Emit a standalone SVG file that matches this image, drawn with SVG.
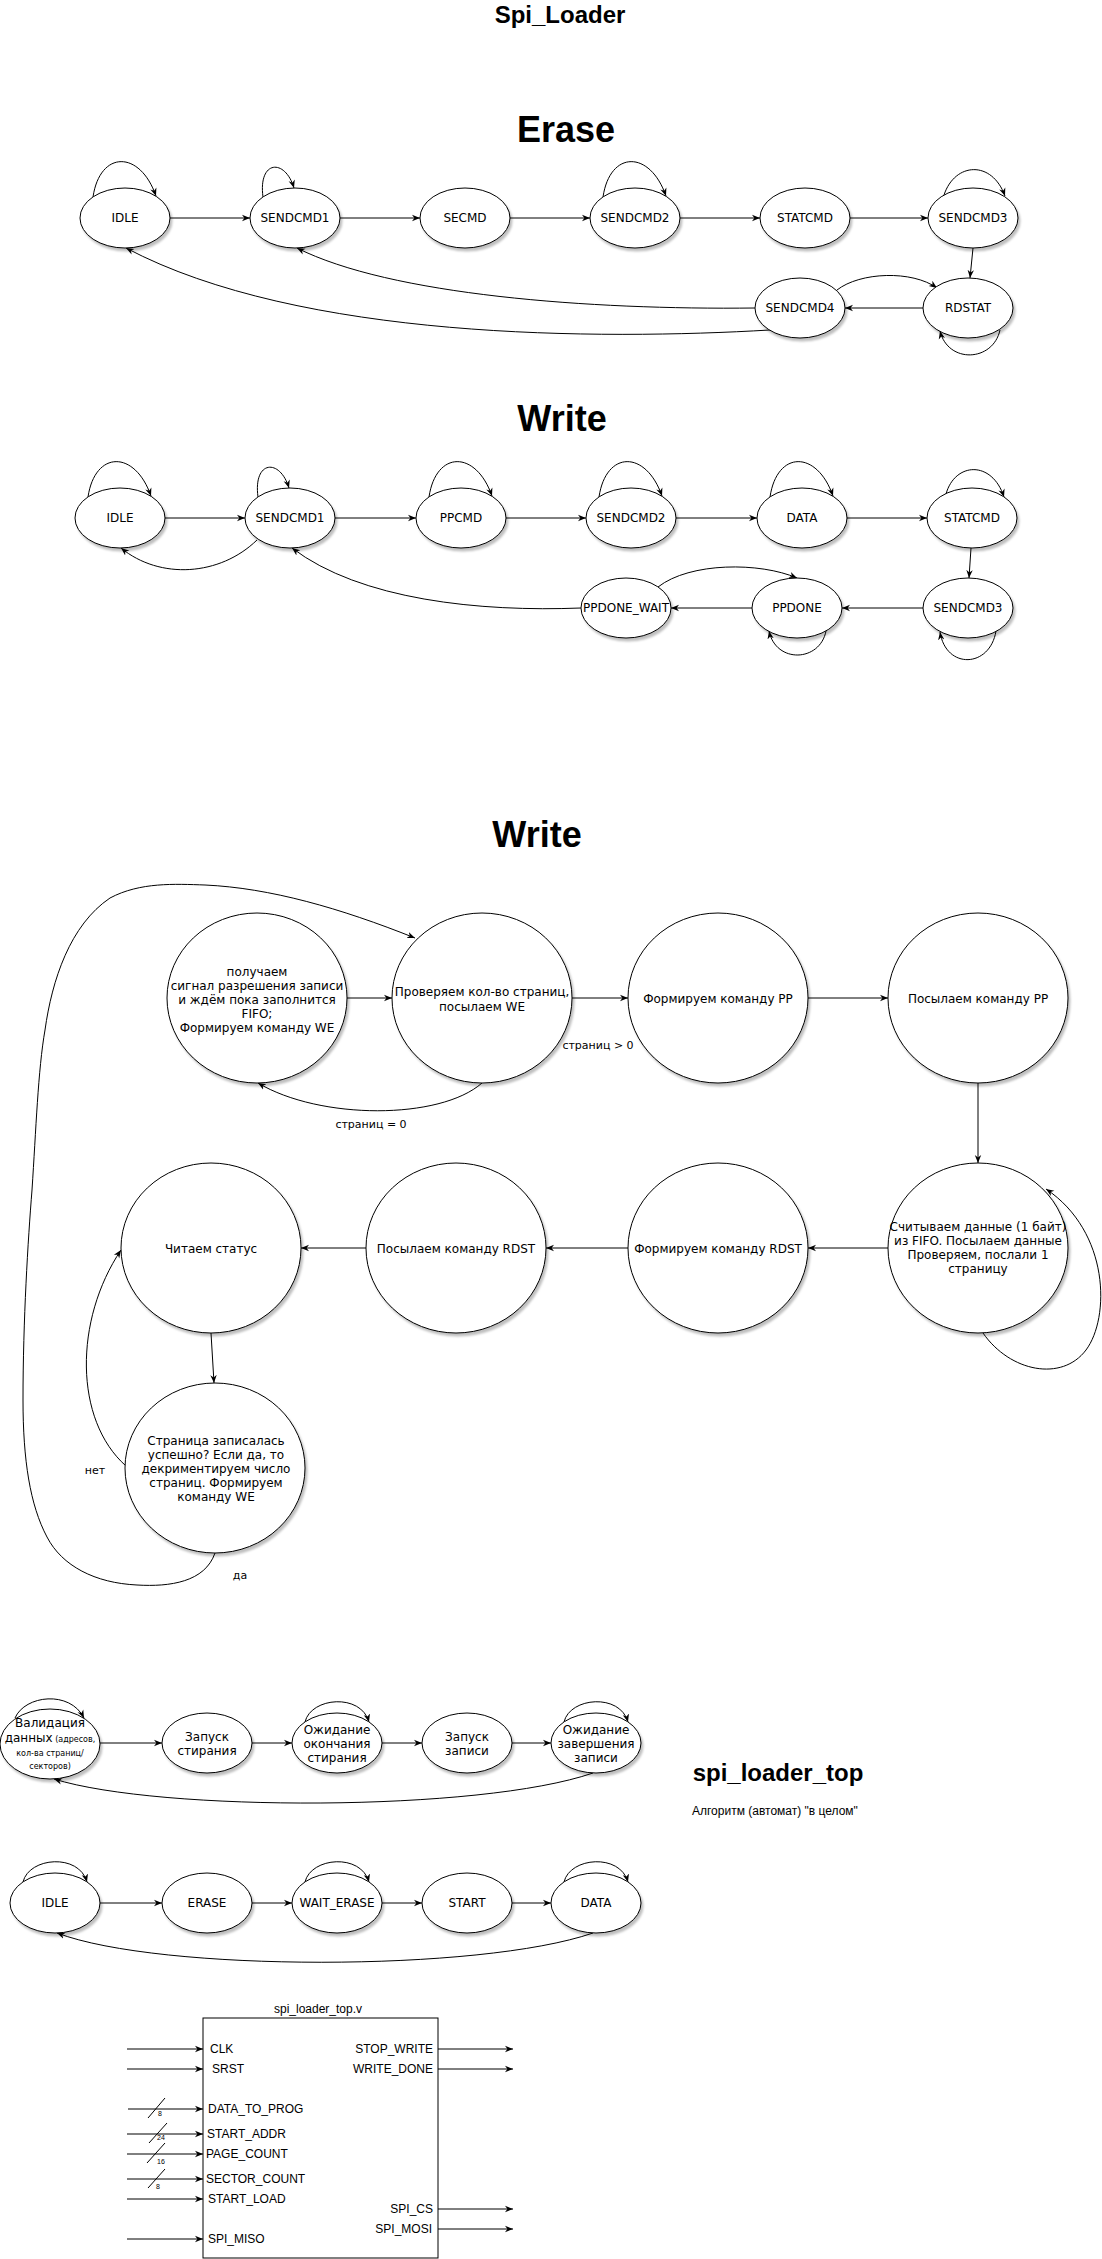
<svg xmlns="http://www.w3.org/2000/svg" width="1102" height="2259" viewBox="0 0 1102 2259">
<style>
.n{fill:#fff;stroke:#000;stroke-width:1;filter:url(#sh)}
.e{fill:none;stroke:#000;stroke-width:1;marker-end:url(#a)}
.l{fill:none;stroke:#000;stroke-width:1}
.t{font-family:"DejaVu Sans",sans-serif;font-size:12px;text-anchor:middle;fill:#000}
.t8{font-family:"DejaVu Sans",sans-serif;font-size:8px;text-anchor:middle;fill:#000}
.s{font-family:"DejaVu Sans",sans-serif;font-size:11px;text-anchor:middle;fill:#000}
.h{font-family:"Liberation Sans",Arial,sans-serif;font-weight:bold;text-anchor:middle;fill:#000}
.m{font-family:"Liberation Sans",Arial,sans-serif;font-size:12px;fill:#000}
.w{font-family:"Liberation Sans",Arial,sans-serif;font-size:7px;fill:#000}
</style>
<defs>
<filter id="sh" x="-20%" y="-20%" width="140%" height="150%">
<feDropShadow dx="2" dy="3" stdDeviation="1.2" flood-color="#000" flood-opacity="0.25"/>
</filter>
<marker id="a" viewBox="0 0 10 10" refX="10" refY="5" markerWidth="8" markerHeight="8" markerUnits="userSpaceOnUse" orient="auto">
<path d="M0,1 L10,5 L0,9 L3,5 Z" fill="#000"/>
</marker>
</defs>
<rect width="1102" height="2259" fill="#fff"/>

<g id="titles">
<text class="h" x="560" y="23" font-size="24">Spi_Loader</text>
<text class="h" x="566" y="142" font-size="36">Erase</text>
<text class="h" x="562" y="431" font-size="36">Write</text>
<text class="h" x="537" y="847" font-size="36">Write</text>
<text class="h" x="778" y="1781" font-size="24">spi_loader_top</text>
<text class="m" x="692" y="1815">Алгоритм (автомат) "в целом"</text>
</g>

<!-- ERASE -->
<g id="erase-edges">
<path class="e" d="M170,218 L250,218"/>
<path class="e" d="M340,218 L420,218"/>
<path class="e" d="M510,218 L590,218"/>
<path class="e" d="M680,218 L760,218"/>
<path class="e" d="M850,218 L928,218"/>
<path class="e" d="M973,248 L970,278"/>
<path class="e" d="M923,308 L845,308"/>
<path class="e" d="M837,290 C860,272 912,270 937,288"/>
<path class="e" d="M755,308 C590,310 390,295 297,248"/>
<path class="e" d="M770,330 C600,340 300,340 126,248"/>
<path class="e" d="M93,197 C100,150 140,150 156,196"/>
<path class="e" d="M263,197 C258,160 285,158 294,188"/>
<path class="e" d="M603,197 C610,150 650,150 666,196"/>
<path class="e" d="M944,195 C955,162 992,160 1005,196"/>
<path class="e" d="M1000,330 C993,362 948,364 940,331"/>
</g>
<g id="erase-IDLE"><ellipse class="n" cx="125" cy="218" rx="45" ry="30"/><text class="t" x="125" y="222">IDLE</text></g>
<g id="erase-SENDCMD1"><ellipse class="n" cx="295" cy="218" rx="45" ry="30"/><text class="t" x="295" y="222">SENDCMD1</text></g>
<g id="erase-SECMD"><ellipse class="n" cx="465" cy="218" rx="45" ry="30"/><text class="t" x="465" y="222">SECMD</text></g>
<g id="erase-SENDCMD2"><ellipse class="n" cx="635" cy="218" rx="45" ry="30"/><text class="t" x="635" y="222">SENDCMD2</text></g>
<g id="erase-STATCMD"><ellipse class="n" cx="805" cy="218" rx="45" ry="30"/><text class="t" x="805" y="222">STATCMD</text></g>
<g id="erase-SENDCMD3"><ellipse class="n" cx="973" cy="218" rx="45" ry="30"/><text class="t" x="973" y="222">SENDCMD3</text></g>
<g id="erase-SENDCMD4"><ellipse class="n" cx="800" cy="308" rx="45" ry="30"/><text class="t" x="800" y="312">SENDCMD4</text></g>
<g id="erase-RDSTAT"><ellipse class="n" cx="968" cy="308" rx="45" ry="30"/><text class="t" x="968" y="312">RDSTAT</text></g>

<!-- WRITE 1 -->
<g id="write1-edges">
<path class="e" d="M165,518 L245,518"/>
<path class="e" d="M335,518 L416,518"/>
<path class="e" d="M506,518 L586,518"/>
<path class="e" d="M676,518 L757,518"/>
<path class="e" d="M847,518 L927,518"/>
<path class="e" d="M971,548 L969,578"/>
<path class="e" d="M923,608 L842,608"/>
<path class="e" d="M752,608 L671,608"/>
<path class="e" d="M658,587 C690,562 760,562 797,578"/>
<path class="e" d="M581,608 C480,612 360,600 292,548"/>
<path class="e" d="M257,540 C220,576 160,580 121,548"/>
<path class="e" d="M88,497 C95,450 135,450 151,496"/>
<path class="e" d="M258,497 C253,460 280,458 289,488"/>
<path class="e" d="M429,497 C436,450 476,450 492,496"/>
<path class="e" d="M599,497 C606,450 646,450 662,496"/>
<path class="e" d="M770,497 C777,450 817,450 833,496"/>
<path class="e" d="M946,494 C955,462 992,460 1004,497"/>
<path class="e" d="M826,631 C820,662 776,664 769,631"/>
<path class="e" d="M996,631 C990,668 946,670 940,632"/>
</g>
<g id="write1-IDLE"><ellipse class="n" cx="120" cy="518" rx="45" ry="30"/><text class="t" x="120" y="522">IDLE</text></g>
<g id="write1-SENDCMD1"><ellipse class="n" cx="290" cy="518" rx="45" ry="30"/><text class="t" x="290" y="522">SENDCMD1</text></g>
<g id="write1-PPCMD"><ellipse class="n" cx="461" cy="518" rx="45" ry="30"/><text class="t" x="461" y="522">PPCMD</text></g>
<g id="write1-SENDCMD2"><ellipse class="n" cx="631" cy="518" rx="45" ry="30"/><text class="t" x="631" y="522">SENDCMD2</text></g>
<g id="write1-DATA"><ellipse class="n" cx="802" cy="518" rx="45" ry="30"/><text class="t" x="802" y="522">DATA</text></g>
<g id="write1-STATCMD"><ellipse class="n" cx="972" cy="518" rx="45" ry="30"/><text class="t" x="972" y="522">STATCMD</text></g>
<g id="write1-SENDCMD3"><ellipse class="n" cx="968" cy="608" rx="45" ry="30"/><text class="t" x="968" y="612">SENDCMD3</text></g>
<g id="write1-PPDONE"><ellipse class="n" cx="797" cy="608" rx="45" ry="30"/><text class="t" x="797" y="612">PPDONE</text></g>
<g id="write1-PPDONE_WAIT"><ellipse class="n" cx="626" cy="608" rx="45" ry="30"/><text class="t" x="626" y="612">PPDONE_WAIT</text></g>

<!-- WRITE 2 -->
<g id="write2-edges">
<path class="e" d="M347,998 L392,998"/>
<path class="e" d="M572,998 L628,998"/>
<path class="e" d="M808,998 L888,998"/>
<path class="e" d="M978,1083 L978,1163"/>
<path class="e" d="M888,1248 L808,1248"/>
<path class="e" d="M628,1248 L546,1248"/>
<path class="e" d="M366,1248 L301,1248"/>
<path class="e" d="M211,1333 L214,1383"/>
<path class="e" d="M482,1083 C440,1120 320,1120 258,1083"/>
<path class="e" d="M215,1553 C205,1582 170,1587 137,1585 C95,1583 62,1566 47,1537 C30,1505 23,1460 23,1400 C23,1320 28,1240 32,1190 C36,1130 38,1070 45,1030 C52,980 70,925 110,898 C140,882 175,884 205,885 C270,888 340,908 415,938"/>
<path class="e" d="M983,1333 C1010,1372 1062,1382 1086,1350 C1110,1318 1110,1232 1046,1189"/>
<path class="e" d="M126,1466 C74,1420 74,1320 121,1250"/>
<text class="s" x="598" y="1049">страниц &gt; 0</text>
<text class="s" x="371" y="1128">страниц = 0</text>
<text class="s" x="95" y="1474">нет</text>
<text class="s" x="240" y="1579">да</text>
</g>
<g id="w2-wait">
<ellipse class="n" cx="257" cy="998" rx="90" ry="85"/>
<text class="t" x="257" y="976">получаем</text>
<text class="t" x="257" y="990">сигнал разрешения записи</text>
<text class="t" x="257" y="1004">и ждём пока заполнится</text>
<text class="t" x="257" y="1018">FIFO;</text>
<text class="t" x="257" y="1032">Формируем команду WE</text>
</g>
<g id="w2-check">
<ellipse class="n" cx="482" cy="998" rx="90" ry="85"/>
<text class="t" x="482" y="996">Проверяем кол-во страниц,</text>
<text class="t" x="482" y="1011">посылаем WE</text>
</g>
<g id="w2-formpp"><ellipse class="n" cx="718" cy="998" rx="90" ry="85"/><text class="t" x="718" y="1003">Формируем команду PP</text></g>
<g id="w2-sendpp"><ellipse class="n" cx="978" cy="998" rx="90" ry="85"/><text class="t" x="978" y="1003">Посылаем команду PP</text></g>
<g id="w2-read">
<ellipse class="n" cx="978" cy="1248" rx="90" ry="85"/>
<text class="t" x="978" y="1231">Считываем данные (1 байт)</text>
<text class="t" x="978" y="1245">из FIFO. Посылаем данные</text>
<text class="t" x="978" y="1259">Проверяем, послали 1</text>
<text class="t" x="978" y="1273">страницу</text>
</g>
<g id="w2-formrdst"><ellipse class="n" cx="718" cy="1248" rx="90" ry="85"/><text class="t" x="718" y="1253">Формируем команду RDST</text></g>
<g id="w2-sendrdst"><ellipse class="n" cx="456" cy="1248" rx="90" ry="85"/><text class="t" x="456" y="1253">Посылаем команду RDST</text></g>
<g id="w2-status"><ellipse class="n" cx="211" cy="1248" rx="90" ry="85"/><text class="t" x="211" y="1253">Читаем статус</text></g>
<g id="w2-page">
<ellipse class="n" cx="215" cy="1468" rx="90" ry="85"/>
<text class="t" x="216" y="1445">Страница записалась</text>
<text class="t" x="216" y="1459">успешно? Если да, то</text>
<text class="t" x="216" y="1473">декриментируем число</text>
<text class="t" x="216" y="1487">страниц. Формируем</text>
<text class="t" x="216" y="1501">команду WE</text>
</g>

<!-- TOP ALGORITHM -->
<g id="topA-edges">
<path class="e" d="M100,1743 L162,1743"/>
<path class="e" d="M252,1743 L292,1743"/>
<path class="e" d="M382,1743 L422,1743"/>
<path class="e" d="M512,1743 L551,1743"/>
<path class="e" d="M593,1773 C480,1812 160,1812 54,1779"/>
<path class="e" d="M15,1718 C25,1695 70,1690 84,1718"/>
<path class="e" d="M305,1722 C311,1697 361,1693 369,1722"/>
<path class="e" d="M564,1722 C570,1697 620,1693 628,1722"/>
</g>
<g id="topA-valid">
<ellipse class="n" cx="50" cy="1744" rx="50" ry="35"/>
<text class="t" x="50" y="1727">Валидация</text>
<text class="t" x="50" y="1742">данных<tspan style="font-size:8px"> (адресов,</tspan></text>
<text class="t8" x="50" y="1756">кол-ва страниц/</text>
<text class="t8" x="50" y="1769">секторов)</text>
</g>
<g id="topA-erase"><ellipse class="n" cx="207" cy="1743" rx="45" ry="30"/><text class="t" x="207" y="1741">Запуск</text><text class="t" x="207" y="1755">стирания</text></g>
<g id="topA-waiterase"><ellipse class="n" cx="337" cy="1743" rx="45" ry="30"/><text class="t" x="337" y="1734">Ожидание</text><text class="t" x="337" y="1748">окончания</text><text class="t" x="337" y="1762">стирания</text></g>
<g id="topA-write"><ellipse class="n" cx="467" cy="1743" rx="45" ry="30"/><text class="t" x="467" y="1741">Запуск</text><text class="t" x="467" y="1755">записи</text></g>
<g id="topA-waitwrite"><ellipse class="n" cx="596" cy="1743" rx="45" ry="30"/><text class="t" x="596" y="1734">Ожидание</text><text class="t" x="596" y="1748">завершения</text><text class="t" x="596" y="1762">записи</text></g>

<g id="topB-edges">
<path class="e" d="M100,1903 L162,1903"/>
<path class="e" d="M252,1903 L292,1903"/>
<path class="e" d="M382,1903 L422,1903"/>
<path class="e" d="M512,1903 L551,1903"/>
<path class="e" d="M593,1933 C480,1972 160,1972 57,1933"/>
<path class="e" d="M23,1882 C29,1857 79,1853 87,1882"/>
<path class="e" d="M305,1882 C311,1857 361,1853 369,1882"/>
<path class="e" d="M564,1882 C570,1857 620,1853 628,1882"/>
</g>
<g id="topB-IDLE"><ellipse class="n" cx="55" cy="1903" rx="45" ry="30"/><text class="t" x="55" y="1907">IDLE</text></g>
<g id="topB-ERASE"><ellipse class="n" cx="207" cy="1903" rx="45" ry="30"/><text class="t" x="207" y="1907">ERASE</text></g>
<g id="topB-WAIT_ERASE"><ellipse class="n" cx="337" cy="1903" rx="45" ry="30"/><text class="t" x="337" y="1907">WAIT_ERASE</text></g>
<g id="topB-START"><ellipse class="n" cx="467" cy="1903" rx="45" ry="30"/><text class="t" x="467" y="1907">START</text></g>
<g id="topB-DATA"><ellipse class="n" cx="596" cy="1903" rx="45" ry="30"/><text class="t" x="596" y="1907">DATA</text></g>

<!-- MODULE -->
<g id="module">
<text class="m" x="318" y="2013" text-anchor="middle">spi_loader_top.v</text>
<rect x="203" y="2018" width="235" height="240" fill="#fff" stroke="#000" stroke-width="1"/>
<text class="m" x="210" y="2053">CLK</text>
<text class="m" x="212" y="2073">SRST</text>
<text class="m" x="208" y="2113">DATA_TO_PROG</text>
<text class="m" x="207" y="2138">START_ADDR</text>
<text class="m" x="206" y="2158">PAGE_COUNT</text>
<text class="m" x="206" y="2183">SECTOR_COUNT</text>
<text class="m" x="208" y="2203">START_LOAD</text>
<text class="m" x="208" y="2243">SPI_MISO</text>
<text class="m" x="433" y="2053" text-anchor="end">STOP_WRITE</text>
<text class="m" x="433" y="2073" text-anchor="end">WRITE_DONE</text>
<text class="m" x="433" y="2213" text-anchor="end">SPI_CS</text>
<text class="m" x="432" y="2233" text-anchor="end">SPI_MOSI</text>
</g>
<g id="module-ports">
<path class="e" d="M127,2049 L203,2049"/>
<path class="e" d="M127,2069 L203,2069"/>
<path class="e" d="M128,2109 L203,2109"/>
<path class="e" d="M127,2134 L203,2134"/>
<path class="e" d="M127,2154 L203,2154"/>
<path class="e" d="M127,2179 L203,2179"/>
<path class="e" d="M127,2199 L203,2199"/>
<path class="e" d="M127,2239 L203,2239"/>
<path class="e" d="M438,2049 L513,2049"/>
<path class="e" d="M438,2069 L513,2069"/>
<path class="e" d="M438,2209 L513,2209"/>
<path class="e" d="M438,2229 L513,2229"/>
<path class="l" d="M148,2118 L165,2098"/>
<path class="l" d="M149,2143 L167,2123"/>
<path class="l" d="M147,2163 L165,2143"/>
<path class="l" d="M148,2188 L165,2169"/>
<text class="w" x="158" y="2116">8</text>
<text class="w" x="157" y="2140">24</text>
<text class="w" x="157" y="2164">16</text>
<text class="w" x="156" y="2189">8</text>
</g>
</svg>
